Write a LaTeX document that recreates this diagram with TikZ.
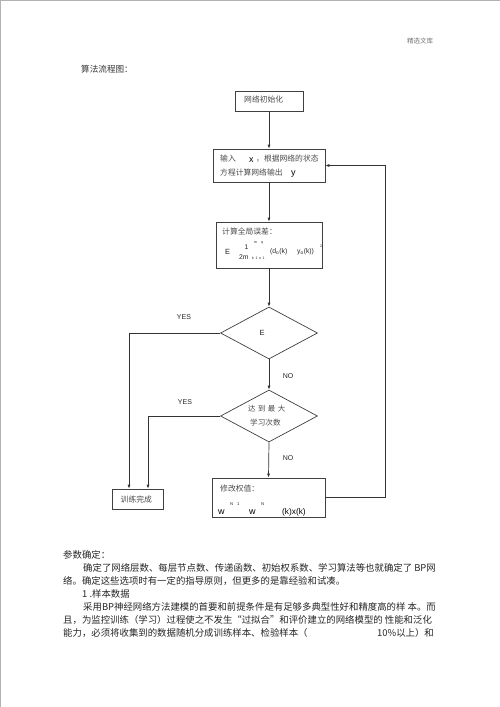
\documentclass[tikz,border=0pt]{standalone}
\usepackage{fontspec}
\setmainfont{Noto Sans CJK SC}
\newfontfamily\lat{Liberation Sans}
\usetikzlibrary{shapes.geometric,arrows.meta}
\begin{document}
\begin{tikzpicture}[x=1pt,y=-1pt,
  box/.style={draw=black!75,line width=0.7pt,inner sep=0pt},
  dia/.style={diamond,draw=black!75,line width=0.7pt,inner sep=0pt,minimum width=97pt,minimum height=52pt},
  zh/.style={font=\fontsize{7.8}{9}\selectfont,text=black!70,inner sep=0pt,anchor=west},
  lab/.style={font=\lat\fontsize{7}{8}\selectfont,text=black!85,inner sep=0pt},
  mth/.style={font=\lat\fontsize{6.8}{7}\selectfont,text=black!85,inner sep=0pt,anchor=west},
  tiny/.style={font=\lat\fontsize{3.6}{4}\selectfont,text=black!85,inner sep=0pt,anchor=west},
  big/.style={font=\lat\fontsize{9}{10}\selectfont,text=black,inner sep=0pt,anchor=base west},
  arr/.style={-{Latex[length=4pt,width=3pt]},line width=0.7pt,draw=black!80},
  body/.style={font=\fontsize{9.4}{11}\selectfont,text=black!85,inner sep=0pt,anchor=west}]
\useasboundingbox (0,0) rectangle (500,707);
\fill[white] (0,0) rectangle (500,707);
% page edges
\draw[gray!60,line width=1pt] (0,0.5) -- (500,0.5);
\draw[gray!60,line width=1pt] (0.5,0) -- (0.5,707);
% header and title
\node[font=\fontsize{6.5}{7}\selectfont,text=black!55,inner sep=0pt,anchor=west] (hdr) at (407,41) {精选文库};
\node[font=\fontsize{8.6}{10}\selectfont,text=black!80,inner sep=0pt,anchor=west] (ttl) at (81,69) {算法流程图：};
% box 1
\node[box,minimum width=68pt,minimum height=20pt] (b1) at (269.5,101) {};
\node[zh] (t1) at (244,99.5) {网络初始化};
% box 2
\node[box,minimum width=112pt,minimum height=33pt] (b2) at (269,165.5) {};
\node[zh] (t2a) at (220,158.5) {输入};
\node[big] (t2x) at (249,162) {x};
\node[zh] (t2b) at (256,158.5) {，根据网络的状态};
\node[zh] (t2c) at (220,172) {方程计算网络输出};
\node[big] (t2y) at (291,175.5) {y};
% box 3
\node[box,minimum width=106pt,minimum height=46pt] (b3) at (269,245) {};
\node[zh] (t3) at (222,232) {计算全局误差：};
\node[mth,font=\lat\fontsize{7.5}{8}\selectfont] (fE) at (225,252) {E};
\node[mth] (f1) at (244.5,247.5) {1};
\node[mth] (f2m) at (239,257.5) {2m};
\node[tiny] (fmq) at (254,243) {m\hspace{4pt}q};
\node[tiny] (fk) at (252,258.5) {k\hspace{1.5pt}1\hspace{1.5pt}o\hspace{1.5pt}1};
\node[mth] (fd) at (270,252) {(d\textsubscript{o}(k)};
\node[mth] (fy) at (297,252) {y\textsubscript{o}(k))};
\node[tiny] (f2) at (320,246.5) {2};
% diamond 1
\node[dia] (d1) at (269,333) {};
\node[lab,font=\lat\fontsize{7.5}{8}\selectfont] (tE) at (262,333) {E};
% diamond 2
\node[dia] (d2) at (269,416) {};
\node[zh,font=\fontsize{7.4}{9}\selectfont] (td2a) at (248,409) {达\hspace{2.5pt}到\hspace{2.5pt}最\hspace{2.5pt}大};
\node[zh,font=\fontsize{7.6}{9}\selectfont] (td2b) at (250,423) {学习次数};
% box 4
\node[box,minimum width=113pt,minimum height=39pt] (b4) at (268.5,497.5) {};
\node[zh] (t4) at (220,489) {修改权值：};
\node[big] (w1) at (218,514) {w};
\node[tiny,font=\lat\fontsize{4.2}{5}\selectfont] (n1) at (230,504.5) {N\hspace{4pt}1};
\node[big] (w2) at (249,514) {w};
\node[tiny,font=\lat\fontsize{4.2}{5}\selectfont] (n2) at (261,504.5) {N};
\node[big,font=\lat\fontsize{8.3}{9}\selectfont] (kx) at (282,514) {(k)x(k)};
% training finished box
\node[box,minimum width=51pt,minimum height=20pt] (tr) at (137.5,499) {};
\node[zh] (ttr) at (120.5,499.5) {训练完成};
% labels
\node[lab] (yes1) at (184,317) {YES};
\node[lab] (no1) at (288,376) {NO};
\node[lab] (yes2) at (185,402) {YES};
\node[lab] (no2) at (288,458) {NO};
% connectors
\draw[arr] (b1.south -| b2.north) -- (b2.north);
\draw[arr] (b2.south) -- (b3.north);
\draw[arr] (b3.south) -- (d1.north);
\draw[arr] (d1.south) -- (d2.north);
\draw[arr] (d2.south) -- (b4.north);
\draw[arr] (b4.east) -- (385,497.5) |- (b2.east);
\draw[arr] (d1.west) -| ([xshift=-8.5pt]tr.north);
\draw[arr] (d2.west) -| ([xshift=10.5pt]tr.north);
% body text
\node[body] (p1) at (63,555) {参数确定：};
\node[body] (p2) at (83,568) {确定了网络层数、每层节点数、传递函数、初始权系数、学习算法等也就确定了 BP网};
\node[body] (p3) at (63,581) {络。确定这些选项时有一定的指导原则，但更多的是靠经验和试凑。};
\node[body] (p4) at (82,594) {1 .样本数据};
\node[body] (p5) at (83,607) {采用BP神经网络方法建模的首要和前提条件是有足够多典型性好和精度高的样 本。而};
\node[body] (p6) at (63,620) {且，为监控训练（学习）过程使之不发生“过拟合”和评价建立的网络模型的 性能和泛化};
\node[body] (p7) at (63,633) {能力，必须将收集到的数据随机分成训练样本、检验样本（};
\node[body] (p7b) at (377,633) {10\%以上）和};
\end{tikzpicture}
\end{document}
